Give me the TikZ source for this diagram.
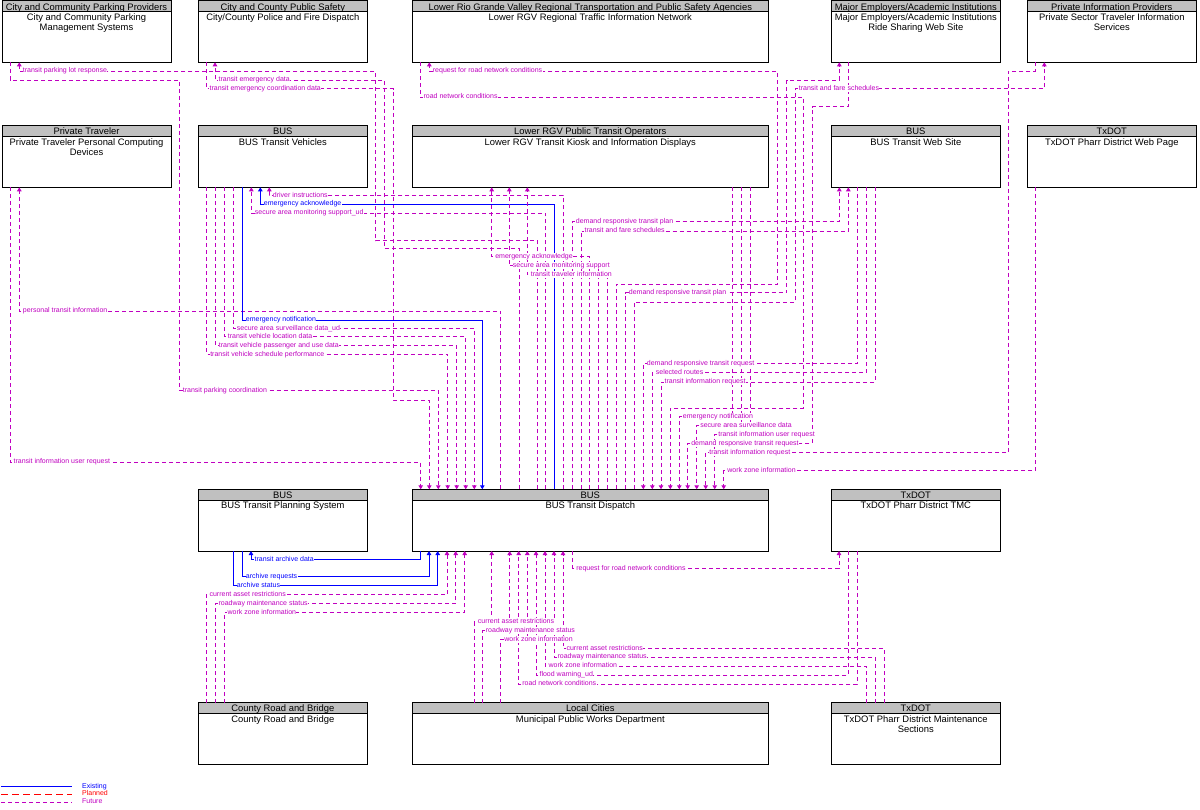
\documentclass[tikz,border=0pt]{standalone}
\usepackage{fontspec}
\setmainfont{Liberation Sans}
\usetikzlibrary{arrows.meta}
\definecolor{futc}{RGB}{192,0,192}
\definecolor{exic}{RGB}{0,0,255}
\definecolor{plac}{RGB}{255,0,0}
\definecolor{hdrc}{RGB}{192,192,192}
\newcommand\boxfont{\fontsize{9.4}{10}\selectfont}
\newcommand\lblfont{\fontsize{7}{7}\selectfont}
\tikzset{
  sysb/.style={draw=black, line width=1pt, fill=white, rectangle, inner sep=0pt, outer sep=0pt},
  hdrb/.style={draw=black, line width=1pt, fill=hdrc},
  btext/.style={anchor=base, inner sep=0pt, font=\boxfont},
  fut/.style={draw=futc, line width=0.9pt, dash pattern=on 4pt off 3pt},
  exi/.style={draw=exic, line width=0.9pt},
  pla/.style={draw=plac, line width=0.9pt, dash pattern=on 7pt off 4pt},
  tip/.style={-{Triangle[width=4.5pt,length=4pt]}},
  lblf/.style={anchor=west, fill=white, inner xsep=0.4pt, inner ysep=0.3pt, text height=5pt, text depth=1.4pt, font=\lblfont, text=futc},
  lble/.style={lblf, text=exic},
  legt/.style={anchor=west, inner sep=0pt, text height=5pt, text depth=1.4pt, font=\lblfont}
}
\newcommand\sysbox[8]{%
  \node[sysb, minimum width={(#4-#2)*1pt}, minimum height={(#5-#3)*1pt}, anchor=north west] (#1) at (#2,#3) {};
  \draw[hdrb] (#2,#3) rectangle (#4,{#3+11});
  \node[btext] (#1-h) at ({(#2+#4)/2},{#3+9.2}) {#6};
  \node[btext] (#1-b) at ({(#2+#4)/2},{#3+19.5}) {#7};
  \if\relax\detokenize{#8}\relax\else
  \node[btext] (#1-c) at ({(#2+#4)/2},{#3+30}) {#8};\fi
}
\begin{document}
\begin{tikzpicture}[x=1pt,y=-1pt]
\useasboundingbox (0,0) rectangle (1200,810);
% ---------- boxes ----------
\sysbox{park}{2}{1}{171}{62.3}{City and Community Parking Providers}{City and Community Parking}{Management Systems}
\sysbox{police}{198.3}{1}{367.3}{62.3}{City and County Public Safety}{City/County Police and Fire Dispatch}{}
\sysbox{tin}{412.3}{1}{768.3}{62.3}{Lower Rio Grande Valley Regional Transportation and Public Safety Agencies}{Lower RGV Regional Traffic Information Network}{}
\sysbox{emp}{831.3}{1}{1000.3}{62.3}{Major Employers/Academic Institutions}{Major Employers/Academic Institutions}{Ride Sharing Web Site}
\sysbox{pinfo}{1027.3}{1}{1196.3}{62.3}{Private Information Providers}{Private Sector Traveler Information}{Services}
\sysbox{pt}{2}{125.7}{171}{187.3}{Private Traveler}{Private Traveler Personal Computing}{Devices}
\sysbox{veh}{198.3}{125.7}{367.3}{187.3}{BUS}{BUS Transit Vehicles}{}
\sysbox{kiosk}{412.3}{125.7}{768.3}{187.3}{Lower RGV Public Transit Operators}{Lower RGV Transit Kiosk and Information Displays}{}
\sysbox{web}{831.3}{125.7}{1000.3}{187.3}{BUS}{BUS Transit Web Site}{}
\sysbox{wpage}{1027.3}{125.7}{1196.3}{187.3}{TxDOT}{TxDOT Pharr District Web Page}{}
\sysbox{plan}{198.3}{489.3}{367.3}{551}{BUS}{BUS Transit Planning System}{}
\sysbox{disp}{412.3}{489.3}{768.3}{551}{BUS}{BUS Transit Dispatch}{}
\sysbox{tmc}{831.3}{489.3}{1000.3}{551}{TxDOT}{TxDOT Pharr District TMC}{}
\sysbox{crb}{198.3}{702.5}{367.3}{764}{County Road and Bridge}{County Road and Bridge}{}
\sysbox{mun}{412.3}{702.5}{768.3}{764}{Local Cities}{Municipal Public Works Department}{}
\sysbox{maint}{831.3}{702.5}{1000.3}{764}{TxDOT}{TxDOT Pharr District Maintenance}{Sections}
% ---------- connectors, top ----------
\draw[fut,tip] (537,0 |- disp.north) |- (375.7,240.7) |- (19.3,71) -- (19.3,0 |- park.south);
\draw[fut,tip] (10,0 |- park.south) |- (179.3,80) |- (438.3,390.7) -- (438.3,0 |- disp.north);
\draw[fut,tip] (519,0 |- disp.north) |- (384.3,248.3) |- (215,80) -- (215,0 |- police.south);
\draw[fut,tip] (206,0 |- police.south) |- (393.3,88.7) |- (429.3,400) -- (429.3,0 |- disp.north);
\draw[fut,tip] (616.3,0 |- disp.north) |- (777.7,284.3) |- (429.3,71) -- (429.3,0 |- tin.south);
\draw[fut,tip] (420,0 |- tin.south) |- (803.3,97) |- (670.3,408) -- (670.3,0 |- disp.north);
\draw[fut,tip] (625.3,0 |- disp.north) |- (786.7,292.7) |- (839.3,80) -- (839.3,0 |- emp.south);
\draw[fut,tip] (848.3,0 |- emp.south) |- (812.3,106.7) |- (687.7,443.3) -- (687.7,0 |- disp.north);
\draw[fut,tip] (634.3,0 |- disp.north) |- (795.3,302.3) |- (1044.3,88.7) -- (1044.3,0 |- pinfo.south);
\draw[fut,tip] (1035.7,0 |- pinfo.south) |- (1008.3,71) |- (705.7,452.7) -- (705.7,0 |- disp.north);
\draw[fut,tip] (500.7,0 |- disp.north) |- (19.3,311) -- (19.3,0 |- pt.south);
\draw[fut,tip] (10,0 |- pt.south) |- (420.7,462) -- (420.7,0 |- disp.north);
% vehicles
\draw[fut,tip] (563.3,0 |- disp.north) |- (269.3,195.3) -- (269.3,0 |- veh.south);
\draw[exi,tip] (554.3,0 |- disp.north) |- (260.3,204) -- (260.3,0 |- veh.south);
\draw[fut,tip] (545.7,0 |- disp.north) |- (251.3,213) -- (251.3,0 |- veh.south);
\draw[exi,tip] (242.3,0 |- veh.south) |- (482.3,320) -- (482.3,0 |- disp.north);
\draw[fut,tip] (233.3,0 |- veh.south) |- (474.3,328.7) -- (474.3,0 |- disp.north);
\draw[fut,tip] (224.3,0 |- veh.south) |- (465.7,336.7) -- (465.7,0 |- disp.north);
\draw[fut,tip] (215.3,0 |- veh.south) |- (456.7,345.7) -- (456.7,0 |- disp.north);
\draw[fut,tip] (206.7,0 |- veh.south) |- (447.7,354.3) -- (447.7,0 |- disp.north);
% kiosk
\draw[fut,tip] (589.3,0 |- disp.north) |- (491.7,256.7) -- (491.7,0 |- kiosk.south);
\draw[fut,tip] (598.7,0 |- disp.north) |- (509.3,265.7) -- (509.3,0 |- kiosk.south);
\draw[fut,tip] (607.7,0 |- disp.north) |- (527.3,274.7) -- (527.3,0 |- kiosk.south);
\draw[fut,tip] (732.3,0 |- kiosk.south) |- (679.3,416.7) -- (679.3,0 |- disp.north);
\draw[fut,tip] (741.3,0 |- kiosk.south) |- (696.7,425.3) -- (696.7,0 |- disp.north);
\draw[fut,tip] (750.3,0 |- kiosk.south) |- (714.7,434.3) -- (714.7,0 |- disp.north);
% web site
\draw[fut,tip] (572.3,0 |- disp.north) |- (839.3,221.7) -- (839.3,0 |- web.south);
\draw[fut,tip] (581,0 |- disp.north) |- (848.3,231) -- (848.3,0 |- web.south);
\draw[fut,tip] (857.3,0 |- web.south) |- (643.3,363.7) -- (643.3,0 |- disp.north);
\draw[fut,tip] (866.3,0 |- web.south) |- (652.3,372.7) -- (652.3,0 |- disp.north);
\draw[fut,tip] (875.3,0 |- web.south) |- (661,382) -- (661,0 |- disp.north);
\draw[fut,tip] (1035.7,0 |- wpage.south) |- (723.7,470.7) -- (723.7,0 |- disp.north);
% ---------- connectors, bottom ----------
\draw[exi,tip] (420,0 |- disp.south) |- (251,559.3) -- (251,0 |- plan.south);
\draw[exi,tip] (242.3,0 |- plan.south) |- (429,576.7) -- (429,0 |- disp.south);
\draw[exi,tip] (233.3,0 |- plan.south) |- (437.7,585.7) -- (437.7,0 |- disp.south);
\draw[fut,tip] (206,0 |- crb.north) |- (447,594.7) -- (447,0 |- disp.south);
\draw[fut,tip] (215,0 |- crb.north) |- (455.7,603.7) -- (455.7,0 |- disp.south);
\draw[fut,tip] (224,0 |- crb.north) |- (464.7,612.3) -- (464.7,0 |- disp.south);
\draw[fut,tip] (474.3,0 |- mun.north) |- (491.7,621.7) -- (491.7,0 |- disp.south);
\draw[fut,tip] (482.3,0 |- mun.north) |- (509.7,630.7) -- (509.7,0 |- disp.south);
\draw[fut,tip] (500.7,0 |- mun.north) |- (527.3,639.3) -- (527.3,0 |- disp.south);
\draw[fut,tip] (572.7,0 |- disp.south) |- (839,568.3) -- (839,0 |- tmc.south);
\draw[fut,tip] (848.3,0 |- tmc.south) |- (536,675) -- (536,0 |- disp.south);
\draw[fut,tip] (857.3,0 |- tmc.south) |- (518.7,684) -- (518.7,0 |- disp.south);
\draw[fut,tip] (884.7,0 |- maint.north) |- (563,648.3) -- (563,0 |- disp.south);
\draw[fut,tip] (875.7,0 |- maint.north) |- (554,657) -- (554,0 |- disp.south);
\draw[fut,tip] (866.3,0 |- maint.north) |- (545,666) -- (545,0 |- disp.south);
% ---------- labels ----------
\node[lblf] (l1) at (22.3,71) {transit parking lot response};
\node[lblf] (l2) at (182.3,390.7) {transit parking coordination};
\node[lblf] (l3) at (218,80) {transit emergency data};
\node[lblf] (l4) at (209,88.7) {transit emergency coordination data};
\node[lblf] (l5) at (432.3,71) {request for road network conditions};
\node[lblf] (l6) at (423,97) {road network conditions};
\node[lblf] (l7) at (628.3,292.7) {demand responsive transit plan};
\node[lblf] (l8) at (690.7,443.3) {demand responsive transit request};
\node[lblf] (l9) at (798.3,88.7) {transit and fare schedules};
\node[lblf] (l10) at (708.7,452.7) {transit information request};
\node[lblf] (l11) at (22.3,311) {personal transit information};
\node[lblf] (l12) at (13,462) {transit information user request};
\node[lblf] (l13) at (272.3,195.3) {driver instructions};
\node[lble] (l14) at (263.3,204) {emergency acknowledge};
\node[lblf] (l15) at (254.3,213) {secure area monitoring support\_ud};
\node[lble] (l16) at (245.3,320) {emergency notification};
\node[lblf] (l17) at (236.3,328.7) {secure area surveillance data\_ud};
\node[lblf] (l18) at (227.3,336.7) {transit vehicle location data};
\node[lblf] (l19) at (218.3,345.7) {transit vehicle passenger and use data};
\node[lblf] (l20) at (209.7,354.3) {transit vehicle schedule performance};
\node[lblf] (l21) at (494.7,256.7) {emergency acknowledge};
\node[lblf] (l22) at (512.3,265.7) {secure area monitoring support};
\node[lblf] (l23) at (530.3,274.7) {transit traveler information};
\node[lblf] (l24) at (682.3,416.7) {emergency notification};
\node[lblf] (l25) at (699.7,425.3) {secure area surveillance data};
\node[lblf] (l26) at (717.7,434.3) {transit information user request};
\node[lblf] (l27) at (575.3,221.7) {demand responsive transit plan};
\node[lblf] (l28) at (584,231) {transit and fare schedules};
\node[lblf] (l29) at (646.3,363.7) {demand responsive transit request};
\node[lblf] (l30) at (655.3,372.7) {selected routes};
\node[lblf] (l31) at (664,382) {transit information request};
\node[lblf] (l32) at (726.7,470.7) {work zone information};
\node[lble] (l33) at (254,559.3) {transit archive data};
\node[lble] (l34) at (245.3,576.7) {archive requests};
\node[lble] (l35) at (236.3,585.7) {archive status};
\node[lblf] (l36) at (209,594.7) {current asset restrictions};
\node[lblf] (l37) at (218,603.7) {roadway maintenance status};
\node[lblf] (l38) at (227,612.3) {work zone information};
\node[lblf] (l39) at (477.3,621.7) {current asset restrictions};
\node[lblf] (l40) at (485.3,630.7) {roadway maintenance status};
\node[lblf] (l41) at (503.7,639.3) {work zone information};
\node[lblf] (l42) at (575.7,568.3) {request for road network conditions};
\node[lblf] (l43) at (539,675) {flood warning\_ud};
\node[lblf] (l44) at (521.7,684) {road network conditions};
\node[lblf] (l45) at (566,648.3) {current asset restrictions};
\node[lblf] (l46) at (557,657) {roadway maintenance status};
\node[lblf] (l47) at (548,666) {work zone information};
% ---------- legend ----------
\coordinate (le1a) at (1,786.3); \coordinate (le1b) at (72,786.3);
\coordinate (le2a) at (1,794);   \coordinate (le2b) at (72,794);
\coordinate (le3a) at (1,802);   \coordinate (le3b) at (72,802);
\draw[exi] (le1a) -- (le1b);
\draw[pla] (le2a) -- (le2b);
\draw[fut] (le3a) -- (le3b);
\node[legt, text=exic] (lg1) at (82,786.3) {Existing};
\node[legt, text=plac] (lg2) at (82,794) {Planned};
\node[legt, text=futc] (lg3) at (82,802) {Future};
\end{tikzpicture}
\end{document}
